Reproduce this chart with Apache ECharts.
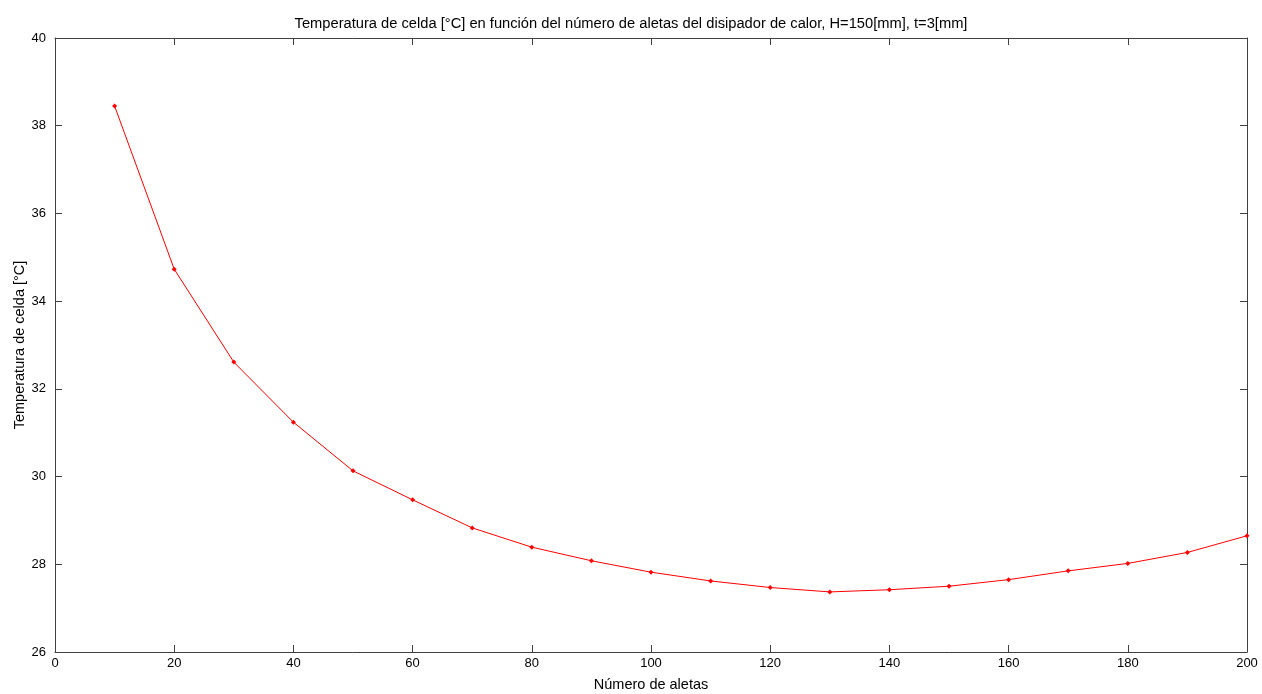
<!DOCTYPE html>
<html>
<head>
<meta charset="utf-8">
<script src="https://cdn.jsdelivr.net/npm/echarts@6/dist/echarts.min.js"></script>
<style>
html,body{margin:0;padding:0;background:#fff;}
#chart{width:1262px;height:694px;}
</style>
</head>
<body>
<div id="chart"></div>
<script>
const titleText = 'Temperatura de celda [°C] en función del número de aletas del disipador de calor, H=150[mm], t=3[mm]';
const xName = 'Número de aletas';
const yName = 'Temperatura de celda [°C]';
const numAletas = [10, 20, 30, 40, 50, 60, 70, 80, 90, 100, 110, 120, 130, 140, 150, 160, 170, 180, 190, 200];
const temperatura = [38.45, 34.73, 32.61, 31.24, 30.13, 29.47, 28.83, 28.39, 28.08, 27.82, 27.62, 27.47, 27.37, 27.42, 27.50, 27.65, 27.85, 28.02, 28.27, 28.65];

const FONT = 'Liberation Sans';
const axisCol = '#404040';
const chart = echarts.init(document.getElementById('chart'), null, {renderer: 'canvas'});
const baseAxis = {
  axisLine: {show: true, onZero: false, lineStyle: {color: axisCol, width: 1}},
  axisTick: {show: true, inside: true, length: 7, lineStyle: {color: axisCol}},
  splitLine: {show: false}
};
chart.setOption({
  backgroundColor: '#ffffff',
  animation: false,
  title: {
    text: titleText, left: 'center', top: 11,
    textStyle: {fontFamily: FONT, fontSize: 14.7, fontWeight: 'normal', color: '#000'}
  },
  grid: {left: 55, right: 15, top: 38, bottom: 42, containLabel: false, outerBoundsMode: 'none'},
  xAxis: [
    Object.assign({}, baseAxis, {
      type: 'value', min: 0, max: 200, interval: 20, position: 'bottom',
      name: xName, nameLocation: 'middle', nameGap: 25, nameMoveOverlap: false,
      nameTextStyle: {fontFamily: FONT, fontSize: 14.5, color: '#000'},
      axisLabel: {fontFamily: FONT, fontSize: 13, color: '#000', margin: 5}
    }),
    Object.assign({}, baseAxis, {
      type: 'value', min: 0, max: 200, interval: 20, position: 'top',
      axisLabel: {show: false}
    })
  ],
  yAxis: [
    Object.assign({}, baseAxis, {
      type: 'value', min: 26, max: 40, interval: 2, position: 'left',
      name: yName, nameLocation: 'middle', nameGap: 28, nameRotate: 90, nameMoveOverlap: false,
      nameTextStyle: {fontFamily: FONT, fontSize: 14.5, color: '#000'},
      axisLabel: {fontFamily: FONT, fontSize: 13, color: '#000', margin: 9}
    }),
    Object.assign({}, baseAxis, {
      type: 'value', min: 26, max: 40, interval: 2, position: 'right',
      axisLabel: {show: false}
    })
  ],
  series: [{
    type: 'line',
    data: numAletas.map((x, i) => [x, temperatura[i]]),
    lineStyle: {color: '#ff0000', width: 1},
    itemStyle: {color: '#ff0000'},
    symbol: 'diamond', symbolSize: 5, showSymbol: true
  }]
});
</script>
</body>
</html>
